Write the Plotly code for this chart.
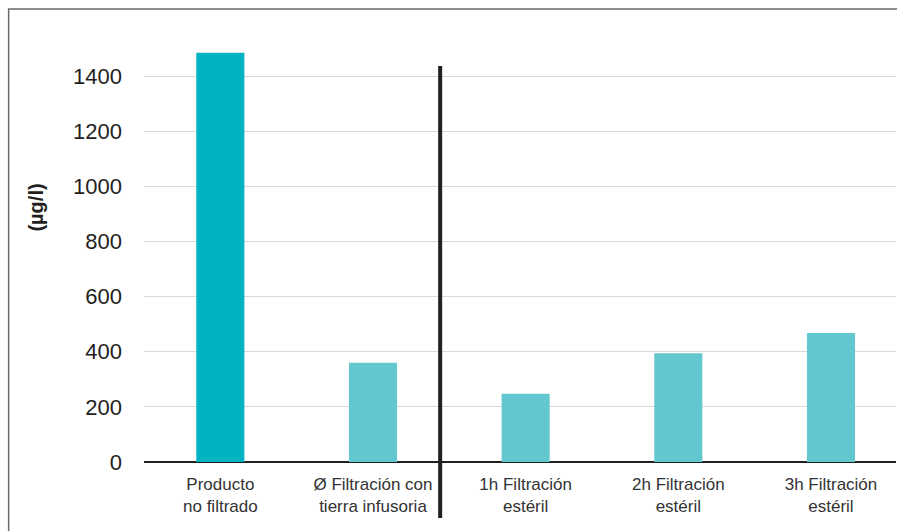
import plotly.graph_objects as go

# Measured concentrations per sample stage
categories = [
    "Producto<br>no filtrado",
    "Ø Filtración con<br>tierra infusoria",
    "1h Filtración<br>estéril",
    "2h Filtración<br>estéril",
    "3h Filtración<br>estéril",
]
values = [1485, 360, 248, 395, 468]
bar_colors = ["#00b3c3", "#63c7cf", "#63c7cf", "#63c7cf", "#63c7cf"]
y_ticks = [0, 200, 400, 600, 800, 1000, 1200, 1400]
y_title = "(µg/l)"

fig = go.Figure(
    go.Bar(
        x=list(range(len(categories))),
        y=values,
        marker=dict(color=bar_colors, line=dict(width=0)),
        width=0.315,
        hoverinfo="skip",
    )
)

font_family = "Liberation Sans, Arial, Helvetica, sans-serif"

fig.update_layout(
    width=897,
    height=531,
    margin=dict(l=143.5, r=1, t=21, b=69),
    paper_bgcolor="white",
    plot_bgcolor="white",
    showlegend=False,
    font=dict(family=font_family, color="#231f20"),
    xaxis=dict(
        range=[-0.5, 4.426],
        tickmode="array",
        tickvals=list(range(len(categories))),
        ticktext=categories,
        tickfont=dict(size=17, color="#333333"),
        showgrid=False,
        zeroline=False,
        showline=False,
        ticks="",
        ticklabelstandoff=10,
        fixedrange=True,
    ),
    yaxis=dict(
        range=[0, 1600],
        tickmode="array",
        tickvals=y_ticks,
        tickfont=dict(size=22, color="#231f20"),
        showgrid=True,
        gridcolor="#d9d9d9",
        gridwidth=1,
        zeroline=True,
        zerolinecolor="#231f20",
        zerolinewidth=1.5,
        showline=False,
        ticks="",
        ticklabelstandoff=21,
        fixedrange=True,
    ),
    shapes=[
        # separator between pre-filtration and sterile-filtration stages
        dict(
            type="line",
            xref="x",
            yref="paper",
            x0=1.44,
            x1=1.44,
            y0=-0.127,
            y1=0.898,
            line=dict(color="#231f20", width=4),
            layer="above",
        ),
        # outer frame
        dict(
            type="rect",
            xref="paper",
            yref="paper",
            x0=-0.18,
            x1=1.02,
            y0=-0.3,
            y1=1.027,
            line=dict(color="#6a6a6a", width=1.5),
            fillcolor="rgba(0,0,0,0)",
            layer="above",
        ),
    ],
    annotations=[
        dict(
            text="<b>" + y_title + "</b>",
            xref="paper",
            yref="paper",
            x=-0.143,
            y=0.578,
            showarrow=False,
            textangle=-90,
            font=dict(size=20, color="#231f20", family=font_family),
            xanchor="center",
            yanchor="middle",
        )
    ],
)

fig.write_html("out.html")
